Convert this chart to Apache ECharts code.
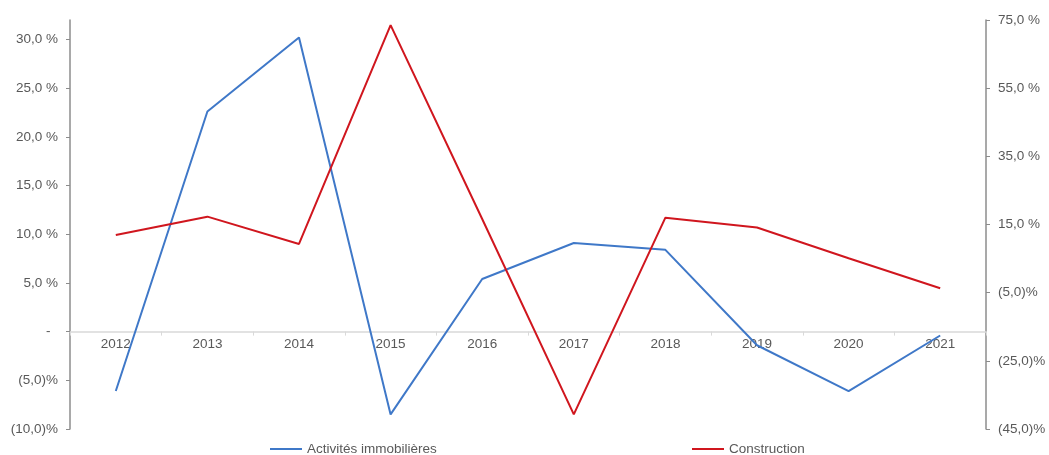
<!DOCTYPE html>
<html>
<head>
<meta charset="utf-8">
<script src="https://cdn.jsdelivr.net/npm/echarts@6/dist/echarts.min.js"></script>
<style>
  html, body { margin: 0; padding: 0; background: #ffffff; }
  #chart { width: 1049px; height: 455px; }
</style>
</head>
<body>
<div id="chart"></div>
<script>
// Annual growth by sector, 2012–2021
const years = ['2012', '2013', '2014', '2015', '2016', '2017', '2018', '2019', '2020', '2021'];
const immobilier = [-6.1, 22.6, 30.2, -8.5, 5.4, 9.1, 8.4, -1.4, -6.1, -0.4];
const construction = [11.9, 17.3, 9.3, 73.5, 16.6, -40.7, 17.0, 14.1, 5.1, -3.7];

// Tick values shown on each value axis
const leftTicks = [-10, -5, 0, 5, 10, 15, 20, 25, 30];
const rightTicks = [-45, -25, -5, 15, 35, 55, 75];

const leftMin = -10, leftMax = 32;
const rightMin = -45, rightMax = 75;

const textColor = '#595959';
const fontFamily = '"Liberation Sans", Arial, sans-serif';
const fontSize = 13.5;

const gridTop = 20, gridBottom = 26, chartHeight = 455;
const plotHeight = chartHeight - gridTop - gridBottom;
// the category axis sits on the zero of the left value axis
const zeroOffset = -plotHeight * (0 - leftMin) / (leftMax - leftMin);

// French-style percentage: 30,0 % / (5,0)% / -
function pct(v, zeroDash) {
  if (Math.abs(v) < 1e-9 && zeroDash) return '-  ';
  const s = Math.abs(v).toFixed(1).replace('.', ',');
  return v < 0 ? '(' + s + ')%' : s + ' %';
}

const chart = echarts.init(document.getElementById('chart'), null, { renderer: 'canvas' });

const legendBase = {
  top: 442,
  padding: 0,
  icon: 'rect',
  itemWidth: 32,
  itemHeight: 2,
  textStyle: { color: textColor, fontSize: fontSize, fontFamily: fontFamily }
};

chart.setOption({
  animation: false,
  backgroundColor: '#ffffff',
  textStyle: { fontFamily: fontFamily },
  grid: { left: 70, right: 63, top: gridTop, bottom: gridBottom, containLabel: false },
  legend: [
    Object.assign({ data: ['Activités immobilières'], left: 270 }, legendBase),
    Object.assign({ data: ['Construction'], left: 692 }, legendBase)
  ],
  xAxis: {
    type: 'category',
    data: years,
    boundaryGap: true,
    position: 'bottom',
    offset: zeroOffset,
    axisLine: { onZero: false, lineStyle: { color: '#d9d9d9', width: 1.5 } },
    axisTick: { show: true, length: 4, lineStyle: { color: '#d9d9d9' } },
    axisLabel: { color: textColor, fontSize: fontSize, fontFamily: fontFamily, margin: 6 },
    splitLine: { show: false }
  },
  yAxis: [
    {
      type: 'value',
      min: leftMin,
      max: leftMax,
      position: 'left',
      axisLine: { show: true, lineStyle: { color: '#8c8c8c', width: 1.5 } },
      axisTick: { show: true, length: 4, customValues: leftTicks, lineStyle: { color: '#8c8c8c' } },
      axisLabel: {
        customValues: leftTicks,
        color: textColor, fontSize: fontSize, fontFamily: fontFamily, margin: 12,
        formatter: v => pct(v, true)
      },
      splitLine: { show: false }
    },
    {
      type: 'value',
      min: rightMin,
      max: rightMax,
      position: 'right',
      axisLine: { show: true, lineStyle: { color: '#8c8c8c', width: 1.5 } },
      axisTick: { show: true, length: 4, customValues: rightTicks, lineStyle: { color: '#8c8c8c' } },
      axisLabel: {
        customValues: rightTicks,
        color: textColor, fontSize: fontSize, fontFamily: fontFamily, margin: 12,
        formatter: v => pct(v, false)
      },
      splitLine: { show: false }
    }
  ],
  series: [
    {
      name: 'Activités immobilières',
      type: 'line',
      yAxisIndex: 0,
      data: immobilier,
      symbol: 'none',
      color: '#3f78c8',
      lineStyle: { color: '#3f78c8', width: 2 }
    },
    {
      name: 'Construction',
      type: 'line',
      yAxisIndex: 1,
      data: construction,
      symbol: 'none',
      color: '#d0161e',
      lineStyle: { color: '#d0161e', width: 2 }
    }
  ]
});
</script>
</body>
</html>
